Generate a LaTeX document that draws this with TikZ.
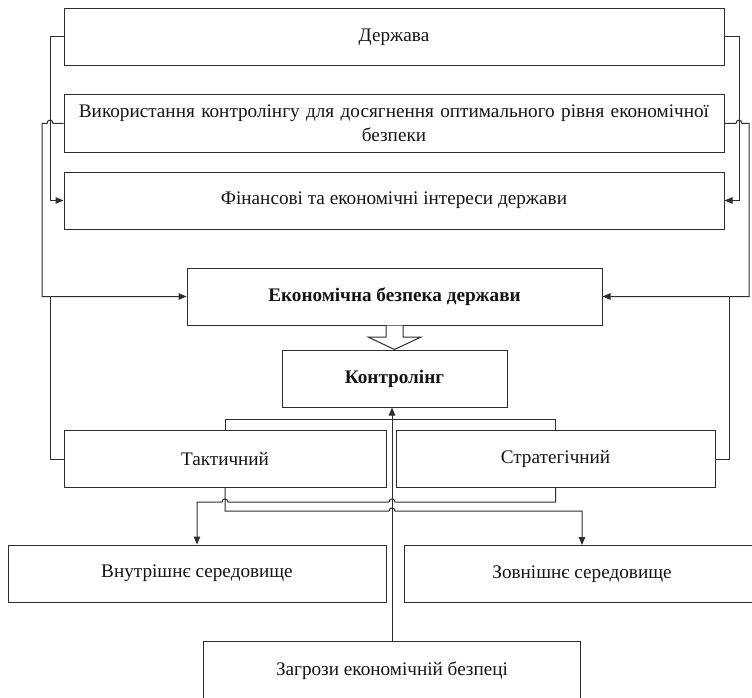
\documentclass[tikz,border=0pt]{standalone}
\usepackage{fontspec}
\setmainfont{Liberation Serif}
\usetikzlibrary{arrows.meta,positioning,calc}
\definecolor{linedark}{HTML}{2E2E2E}
\definecolor{textdark}{HTML}{141414}
\tikzset{
  block/.style={
    rectangle, draw=linedark, line width=1pt, fill=white,
    inner sep=2pt, align=center,
    font=\fontsize{19.2}{24}\selectfont, text=textdark
  },
  wideblock/.style={block, minimum width=660pt, minimum height=57pt},
  midblock/.style={block, minimum height=57pt},
  link/.style={line width=1pt, draw=linedark},
  arrow/.style={-{Triangle[length=8pt,width=6.5pt]}, line width=1pt, draw=linedark}
}

\begin{document}
\begin{tikzpicture}[x=1pt,y=-1pt]
\useasboundingbox (0,0) rectangle (752,698);
\node[wideblock] (state) at (394,37) {Держава};
\node[wideblock, text width=650pt] (usage) at (394,123.5) {Використання контролінгу для досягнення оптимального рівня економічної\\безпеки};
\node[wideblock] (interest) at (394,200.5) {Фінансові та економічні інтереси держави};
\node[midblock, minimum width=415pt, font=\fontsize{19.2}{24}\selectfont\bfseries] (secur) at (394.5,296.5) {Економічна безпека держави};
\node[midblock, minimum width=225pt, font=\fontsize{19.2}{24}\selectfont\bfseries] (ctrl) at (394.5,378.5) {Контролінг};
\node[midblock, minimum width=322pt] (tact) at (225,459) {Тактичний};
\node[midblock, minimum width=319pt] (strat) at (555.5,459) {Стратегічний};
\node[midblock, minimum width=378pt] (inner) at (197,573.5) {Внутрішнє середовище};
\node[midblock, minimum width=356pt] (outer) at (582,574) {Зовнішнє середовище};
\node[midblock, minimum width=377pt, minimum height=59pt] (threat) at (392,670.5) {Загрози економічній безпеці};
% left side loops
\draw[arrow] (state.west) -- (50,37) |- (interest.west);
\draw[arrow] (usage.west) -- (53,123.5) .. controls (53,119) and (47,119) .. (47,123.5) -- (42,123.5) |- (secur.west);
\draw[link] (tact.west) -| (50,296.5);
% right side loops
\draw[arrow] (state.east) -- (739,37) |- (interest.east);
\draw[arrow] (usage.east) -- (736,123.5) .. controls (736,119) and (742,119) .. (742,123.5) -- (749,123.5) |- (secur.east);
\draw[link] (strat.east) -| (729,296.5);
% hollow arrow
\draw[link, fill=white] ($(secur.south)+(-8.5,0)$) -- ($(secur.south)+(-8.5,11.5)$) -- ($(secur.south)+(-26.5,11.5)$) -- (ctrl.north) -- ($(secur.south)+(26.5,11.5)$) -- ($(secur.south)+(8.5,11.5)$) -- ($(secur.south)+(8.5,0)$);
% controlling levels
\draw[link] (tact.north) -- (225,419) -| (strat.north);
\draw[arrow] (threat.north) -- (threat.north |- ctrl.south);
\draw[arrow] (strat.south) -- (555.5,502) -- (395,502) .. controls (395,498) and (389,498) .. (389,502) -- (228,502) .. controls (228,498) and (222,498) .. (222,502) -| (inner.north);
\draw[arrow] (tact.south) -- (225,511) -- (389,511) .. controls (389,507) and (395,507) .. (395,511) -| (outer.north);
\end{tikzpicture}
\end{document}
